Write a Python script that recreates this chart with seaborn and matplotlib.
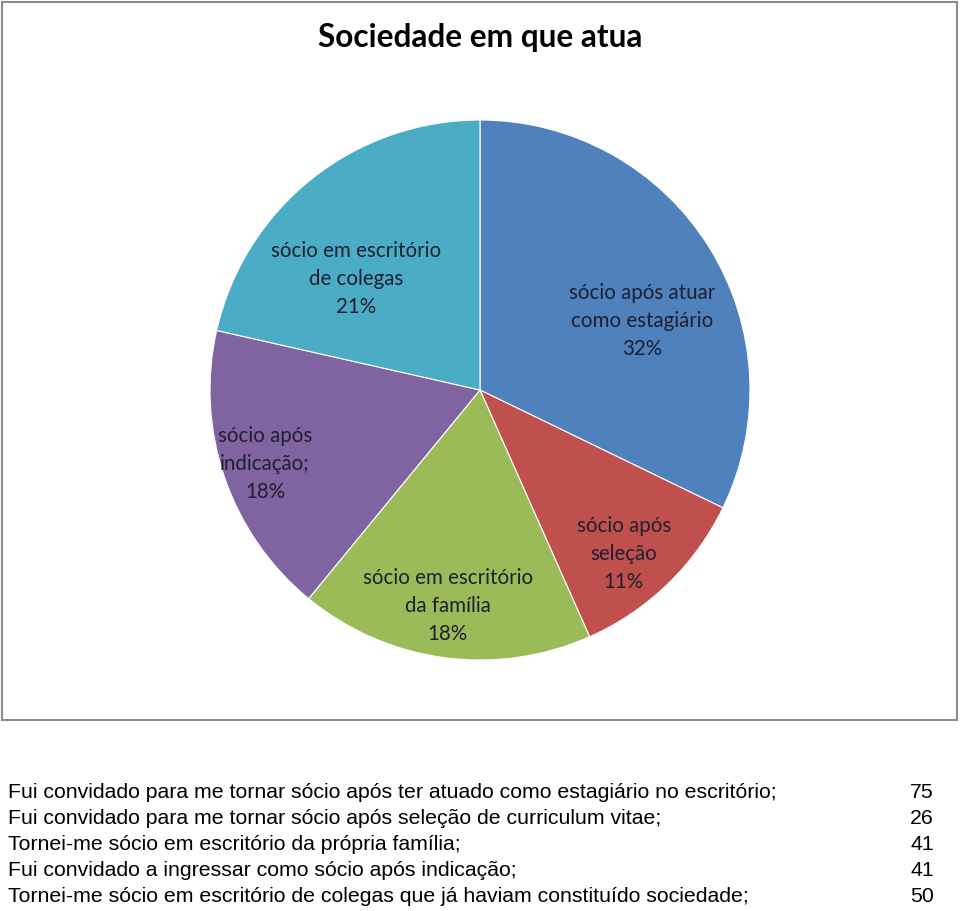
import matplotlib.pyplot as plt
from matplotlib.patches import Rectangle
import seaborn as sns

# chart data
slice_labels = ['sócio após atuar\ncomo estagiário', 'sócio após\nseleção', 'sócio em escritório\nda família',
                'sócio após\nindicação;', 'sócio em escritório\nde colegas']
counts = [75, 26, 41, 41, 50]
table_rows = ['Fui convidado para me tornar sócio após ter atuado como estagiário no escritório;',
              'Fui convidado para me tornar sócio após seleção de curriculum vitae;',
              'Tornei-me sócio em escritório da própria família;',
              'Fui convidado a ingressar como sócio após indicação;',
              'Tornei-me sócio em escritório de colegas que já haviam constituído sociedade;']
title = 'Sociedade em que atua'

# label placement inside the pie (pie units)
label_pos = [(0.60, 0.256), (0.533, -0.607), (-0.119, -0.80), (-0.796, -0.274), (-0.459, 0.411)]

sns.set_style('white')
plt.rcParams['font.family'] = ['Lato', 'DejaVu Sans']

W, H = 960, 911
fig = plt.figure(figsize=(W / 100, H / 100), dpi=100)

# chart frame
fig.patches.append(Rectangle((2 / W, 1 - 720 / H), 955 / W, 718 / H, transform=fig.transFigure,
                             fill=False, edgecolor='#8c8c8c', linewidth=1.5))

cx, cy, r = 480, 390, 270
ax = fig.add_axes([(cx - r) / W, (H - cy - r) / H, 2 * r / W, 2 * r / H])
colors = ['#4F81BD', '#C0504D', '#9BBB59', '#8064A2', '#4BACC6']
wedges, _ = ax.pie(counts, colors=colors, startangle=90, counterclock=False,
                   wedgeprops=dict(edgecolor='white', linewidth=0.8))
ax.set_xlim(-1, 1)
ax.set_ylim(-1, 1)
ax.set_aspect('equal')
ax.axis('off')

total = sum(counts)
for lab, n, (x, y) in zip(slice_labels, counts, label_pos):
    ax.text(x, y, f'{lab}\n{round(100 * n / total)}%', ha='center', va='center', fontsize=14.8,
            color='#1f1f2f', linespacing=1.5)

fig.text(480 / W, 1 - 37 / H, title, ha='center', va='center', fontsize=22.8, fontweight='bold',
         color='black')

for i, (row, n) in enumerate(zip(table_rows, counts)):
    y = 1 - (793 + 26 * i) / H
    fig.text(8 / W, y, row, ha='left', va='center', fontsize=15.3, color='black',
             family=['Liberation Sans'])
    fig.text(934 / W, y, str(n), ha='right', va='center', fontsize=15.3, color='black',
             family=['Liberation Sans'])

fig.savefig('out.png', dpi=100, facecolor='white')
